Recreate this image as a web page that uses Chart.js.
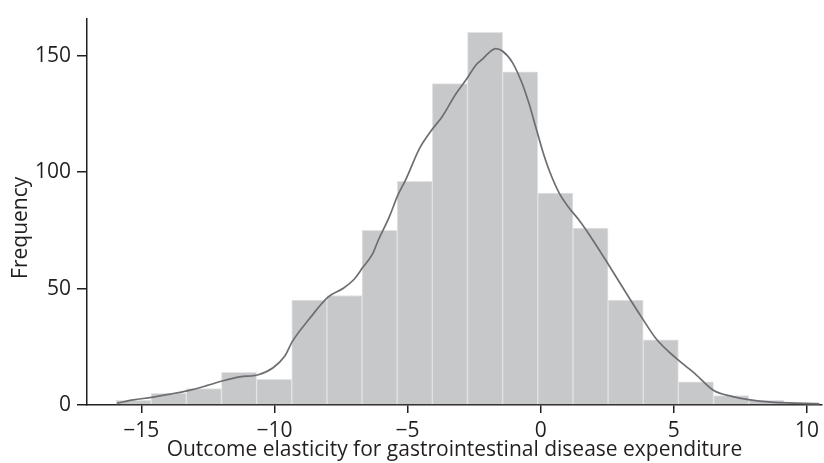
<!DOCTYPE html>
<html>
<head>
<meta charset="utf-8">
<script src="https://cdn.jsdelivr.net/npm/chart.js@4.4.1/dist/chart.umd.min.js"></script>
<style>
  html, body { margin: 0; padding: 0; background: #ffffff; }
  #wrap { width: 824px; height: 463px; }
</style>
</head>
<body>
<div id="wrap"><canvas id="c" width="824" height="463"></canvas></div>
<script>
// Histogram bin edges (outcome elasticity) and counts per bin
const binEdges = [-15.95, -14.63, -13.31, -11.99, -10.67, -9.35, -8.03, -6.71, -5.39, -4.07,
                  -2.75, -1.43, -0.11, 1.21, 2.53, 3.85, 5.17, 6.49, 7.81, 9.13, 10.45];
const binCounts = [2, 5, 7, 14, 11, 45, 47, 75, 96, 138, 160, 143, 91, 76, 45, 28, 10, 4, 2, 1];

// Smoothed density curve (scaled to frequency)
const kdeX = [-15.91, -15.30, -14.61, -13.92, -13.24, -12.55, -11.93, -11.30, -10.61, -10.05,
              -9.61, -9.33, -8.68, -7.99, -7.43, -6.99, -6.68, -6.31, -6.12, -5.68,
              -5.37, -5.06, -4.56, -4.13, -3.69, -3.19, -2.81, -2.43, -2.19, -1.94,
              -1.69, -1.44, -1.06, -0.69, -0.44, -0.19, 0.06, 0.31, 0.69, 1.06,
              1.43, 1.93, 2.56, 3.18, 3.81, 4.31, 5.06, 5.81, 6.50, 7.18,
              7.80, 8.67, 9.55, 10.46];
const kdeY = [0.8, 2.2, 3.3, 4.7, 6.2, 8.3, 10.4, 12.1, 13.0, 16.0,
              21.0, 27.2, 37.1, 46.3, 50.0, 54.2, 59.1, 65.0, 70.2, 81.0,
              90.0, 97.0, 110.0, 117.5, 124.0, 133.5, 139.5, 146.0, 148.5, 151.3,
              153.0, 152.0, 147.0, 137.8, 129.4, 119.5, 109.5, 101.0, 91.1, 84.7,
              79.5, 71.3, 60.0, 48.6, 37.3, 28.8, 20.3, 13.3, 6.2, 3.7,
              2.3, 1.2, 0.8, 0.5];

// Axis ticks
const xTicks = [-15, -10, -5, 0, 5, 10];
const yTicks = [0, 50, 100, 150];

const xTitle = 'Outcome elasticity for gastrointestinal disease expenditure';
const yTitle = 'Frequency';

const barData = binCounts.map((c, i) => ({ x: (binEdges[i] + binEdges[i + 1]) / 2, y: c }));
const kdeData = kdeX.map((x, i) => ({ x: x, y: kdeY[i] }));

const ink = '#231f20';
const fontFamily = '"Open Sans", "Noto Sans", sans-serif';
const fmt = v => (v < 0 ? '\u2212' + Math.abs(v) : String(v));

const shiftYTitle = {
  id: 'shiftYTitle',
  afterLayout(chart) {
    const s = chart.scales.y;
    if (s && !s._patched) {
      const orig = s.drawTitle.bind(s);
      s.drawTitle = function (area) {
        const ctx = this.ctx;
        ctx.save();
        ctx.translate(8, 16);
        orig(area);
        ctx.restore();
      };
      s._patched = true;
    }
  }
};

new Chart(document.getElementById('c'), {
  type: 'bar',
  data: {
    datasets: [
      {
        type: 'line',
        data: kdeData,
        borderColor: '#6d6e71',
        borderWidth: 1.7,
        pointRadius: 0,
        fill: false,
        cubicInterpolationMode: 'monotone',
        order: 0
      },
      {
        type: 'bar',
        data: barData,
        backgroundColor: '#c7c8ca',
        borderColor: '#e2e3e4',
        borderWidth: 1,
        barPercentage: 1,
        categoryPercentage: 1,
        order: 1
      }
    ]
  },
  options: {
    responsive: false,
    animation: false,
    devicePixelRatio: 1,
    layout: { padding: { top: 15, right: 0, bottom: 0, left: 0 } },
    plugins: { legend: { display: false }, tooltip: { enabled: false } },
    scales: {
      x: {
        type: 'linear',
        min: -17.04,
        max: 10.56,
        offset: false,
        afterFit(scale) { scale.height = 58; },
        afterBuildTicks(scale) { scale.ticks = xTicks.map(v => ({ value: v })); },
        grid: { display: true, offset: false, drawOnChartArea: false, drawTicks: true, tickLength: 8, color: ink, lineWidth: 1.5 },
        border: { display: true, color: ink, width: 1.5 },
        ticks: {
          color: ink,
          padding: 5,
          maxRotation: 0,
          font: { family: fontFamily, size: 21 },
          callback: v => fmt(v)
        },
        title: {
          display: true,
          text: xTitle,
          color: ink,
          padding: { top: 0, bottom: 0 },
          font: { family: fontFamily, size: 21 }
        }
      },
      y: {
        type: 'linear',
        min: 0,
        max: 165.9,
        afterFit(scale) { scale.width = 87; },
        afterBuildTicks(scale) { scale.ticks = yTicks.map(v => ({ value: v })); },
        grid: { display: true, drawOnChartArea: false, drawTicks: true, tickLength: 10, color: ink, lineWidth: 1.5 },
        border: { display: true, color: ink, width: 1.5 },
        ticks: {
          color: ink,
          padding: 6,
          font: { family: fontFamily, size: 21 },
          callback: v => fmt(v)
        },
        title: {
          display: true,
          text: yTitle,
          color: ink,
          padding: { top: 0, bottom: 0 },
          font: { family: fontFamily, size: 21 }
        }
      }
    }
  },
  plugins: [shiftYTitle]
});
</script>
</body>
</html>
